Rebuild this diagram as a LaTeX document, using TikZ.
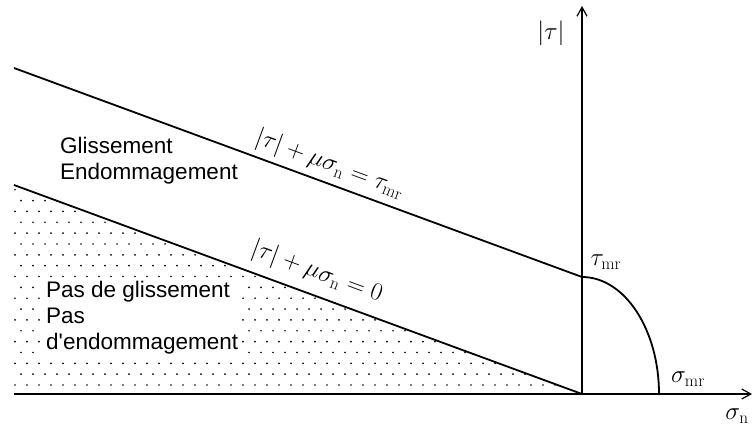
\documentclass[tikz,border=0pt]{standalone}
\usepackage[no-math]{fontspec}
\setsansfont{Liberation Sans}[Ligatures=TeXOff]
\usetikzlibrary{arrows.meta}
\begin{document}
\begin{tikzpicture}[x=1pt,y=-1pt,
  axis/.style={line width=1.2pt,-{Straight Barb[length=9pt,width=10pt,line width=1.2pt]}},
  bound/.style={line width=1.8pt},
  lbl/.style={font=\sffamily\fontsize{22.5}{26}\selectfont, inner sep=1pt},
  eq/.style={font=\fontsize{23}{27}\selectfont, sloped, inner sep=1pt},
  mlbl/.style={font=\fontsize{23}{27}\selectfont, inner sep=0pt}]
\useasboundingbox (0,0) rectangle (752,428);
\coordinate (O) at (582,394);
\coordinate (A1) at (14,68);
\coordinate (B1) at (582,277);
\coordinate (A2) at (14,185);
\coordinate (X0) at (14,394);
\coordinate (XE) at (752,394);
\coordinate (YE) at (582,6);
\coordinate (S) at (659,394);
% dotted region
\begin{scope}
  \clip (A2) -- (O) -- (X0) -- cycle;
  \foreach \j in {0,...,18} {
    \pgfmathsetmacro{\off}{mod(\j,2)==0 ? 15 : 21}
    \foreach \i in {0,...,48} {
      \fill (\off+\i*12, 385-\j*10.85) circle (0.95);
    }
  }
\end{scope}
% text in dotted region
\node[lbl, fill=white, anchor=north west, align=left, inner sep=2pt] (pas) at (44,279)
  {Pas de glissement\\Pas\\d'endommagement};
\node[lbl, anchor=north west, align=left] (gl) at (59,136) {Glissement\\Endommagement};
% lines
\draw[bound] (A1) -- (B1);
\draw[bound] (A2) -- (O);
\draw[bound] (B1) arc[start angle=-90, end angle=0, x radius=77, y radius=117];
% axes
\draw[axis] (X0) -- (XE);
\draw[axis] (O) -- (YE);
% equation labels
\path (A1) -- (B1) node[eq, pos=0.545, above=5pt] (e1) {$|\tau|+\mu\sigma_{\mathrm{n}}=\tau_{\mathrm{mr}}$};
\path (A2) -- (O) node[eq, pos=0.52, above=9pt] (e2) {$|\tau|+\mu\sigma_{\mathrm{n}}=0$};
% axis labels
\node[mlbl] (tau) at (551,33) {$|\tau|$};
\node[mlbl] (taumr) at (606,262) {$\tau_{\mathrm{mr}}$};
\node[mlbl] (sigmr) at (688,379) {$\sigma_{\mathrm{mr}}$};
\node[mlbl] (sign) at (737,416) {$\sigma_{\mathrm{n}}$};
\end{tikzpicture}
\end{document}
